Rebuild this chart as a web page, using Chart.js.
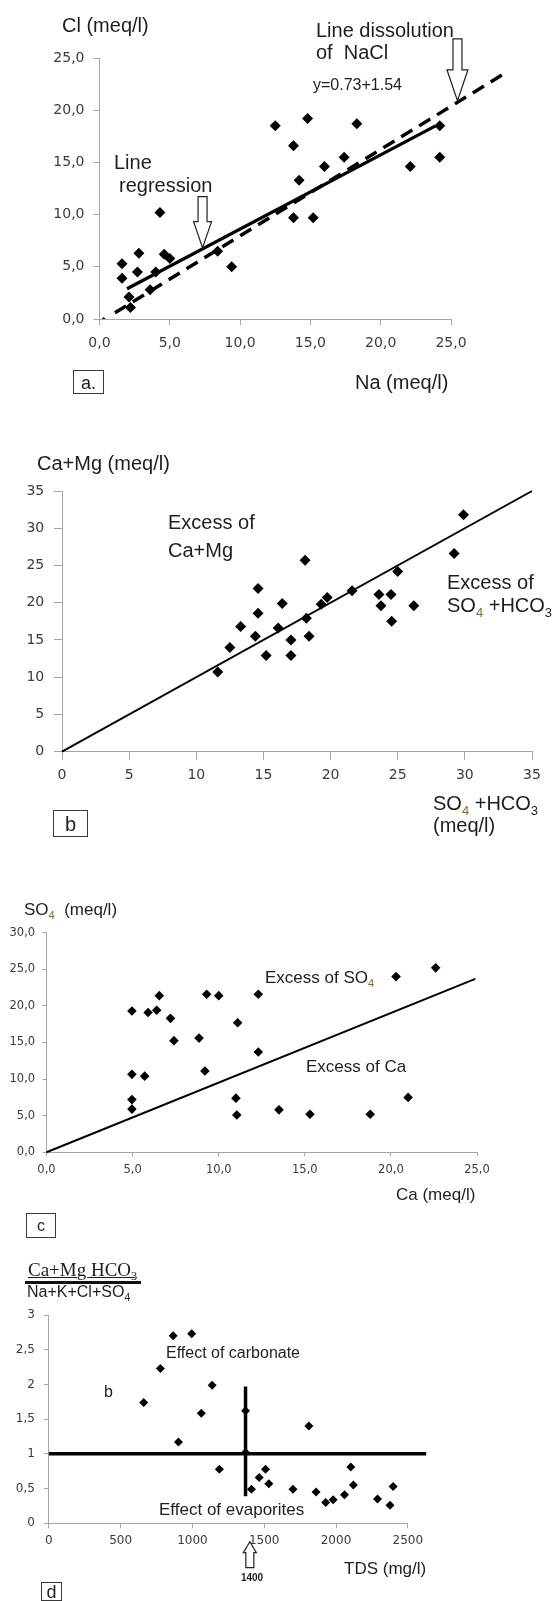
<!DOCTYPE html>
<html>
<head>
<meta charset="utf-8">
<script src="https://cdn.jsdelivr.net/npm/chart.js@4.4.1/dist/chart.umd.min.js"></script>
<style>
    html, body { margin: 0; padding: 0; background: #fff; }
    #page { position: relative; width: 557px; height: 1601px; overflow: hidden;
            font-family: "Liberation Sans", Arial, sans-serif; color: #1e1e1e; }
    canvas { position: absolute; left: 0; }
    .t { position: absolute; white-space: nowrap; line-height: 1; }
    .box { position: absolute; border: 1px solid #3a3a3a; text-align: center; line-height: 1; box-sizing: border-box; }
    sub { font-size: 65%; vertical-align: -0.35em; line-height: 0; }
    sub.s4 { color: #94661f; }
</style>
</head>
<body>
<div id="page">
    <canvas id="chart-a" width="557" height="400" style="top:0px"></canvas>
    <canvas id="chart-b" width="557" height="420" style="top:420px"></canvas>
    <canvas id="chart-c" width="557" height="380" style="top:860px"></canvas>
    <canvas id="chart-d" width="557" height="361" style="top:1240px"></canvas>

    <!-- a: Cl vs Na -->
    <div class="t" style="left:62px;top:15px;font-size:20px">Cl (meq/l)</div>
    <div class="t" style="left:316px;top:20px;font-size:20px">Line dissolution</div>
    <div class="t" style="left:316px;top:42px;font-size:20px">of&nbsp; NaCl</div>
    <div class="t" style="left:313px;top:77px;font-size:16px">y=0.73+1.54</div>
    <div class="t" style="left:114px;top:152px;font-size:20px">Line</div>
    <div class="t" style="left:119px;top:175px;font-size:20px">regression</div>
    <div class="t" style="left:355px;top:372px;font-size:20px">Na (meq/l)</div>
    <div class="box" style="left:73px;top:370px;width:31px;height:24px;font-size:18px;padding-top:3px">a.</div>

    <!-- b: Ca+Mg vs SO4+HCO3 -->
    <div class="t" style="left:37px;top:453px;font-size:20px">Ca+Mg (meq/l)</div>
    <div class="t" style="left:168px;top:512px;font-size:20px">Excess of</div>
    <div class="t" style="left:168px;top:540px;font-size:20px">Ca+Mg</div>
    <div class="t" style="left:447px;top:572px;font-size:20px">Excess of</div>
    <div class="t" style="left:447px;top:595px;font-size:20px">SO<sub class="s4">4</sub> +HCO<sub>3</sub></div>
    <div class="t" style="left:433px;top:793px;font-size:20px">SO<sub class="s4">4</sub> +HCO<sub>3</sub></div>
    <div class="t" style="left:433px;top:815px;font-size:20px">(meq/l)</div>
    <div class="box" style="left:53px;top:810px;width:35px;height:27px;font-size:20px;padding-top:3px">b</div>

    <!-- c: SO4 vs Ca -->
    <div class="t" style="left:24px;top:901px;font-size:17px">SO<sub class="s4">4</sub>&nbsp;&nbsp;(meq/l)</div>
    <div class="t" style="left:265px;top:969px;font-size:17px">Excess of SO<sub class="s4">4</sub></div>
    <div class="t" style="left:306px;top:1058px;font-size:17px">Excess of Ca</div>
    <div class="t" style="left:396px;top:1186px;font-size:17px">Ca (meq/l)</div>
    <div class="box" style="left:26px;top:1213px;width:30px;height:25px;font-size:16px;padding-top:4px">c</div>

    <!-- d: ionic ratio vs TDS -->
    <div class="t" style="left:28px;top:1260px;font-size:19px;font-family:'Liberation Serif',serif;text-decoration:underline;text-decoration-thickness:1px">Ca+Mg HCO<sub>3</sub></div>
    <div style="position:absolute;left:25px;top:1281px;width:116px;height:3px;background:#111"></div>
    <div class="t" style="left:27px;top:1284px;font-size:16px">Na+K+Cl+SO<sub>4</sub></div>
    <div class="t" style="left:104px;top:1384px;font-size:16px">b</div>
    <div class="t" style="left:166px;top:1345px;font-size:16px">Effect of carbonate</div>
    <div class="t" style="left:159px;top:1501px;font-size:17px">Effect of evaporites</div>
    <div class="t" style="left:344px;top:1560px;font-size:17px">TDS (mg/l)</div>
    <div class="t" style="left:238px;top:1573px;width:28px;text-align:center;font-size:10px;font-weight:bold">1400</div>
    <div class="box" style="left:41px;top:1582px;width:21px;height:19px;font-size:18px;padding-top:0px">d</div>
</div>

<script>
// a: Cl against Na (meq/l)
var naMeq = [12.5, 14.8, 18.3, 13.8, 14.2, 16.0, 17.4, 22.1, 24.2, 24.2, 13.8, 15.2, 4.3,
    1.6, 1.6, 2.8, 2.7, 4.6, 5.0, 4.0, 3.6, 2.1, 2.2, 8.4, 9.4];
var clMeq = [18.5, 19.2, 18.7, 16.6, 13.3, 14.6, 15.5, 14.6, 15.5, 18.5, 9.7, 9.7, 10.2,
    5.3, 3.9, 6.3, 4.5, 6.2, 5.8, 4.5, 2.8, 2.1, 1.1, 6.5, 5.0];
var originNa = [0.3];
var originCl = [0.0];
var regressionNa = [1.96, 23.9];
var regressionCl = [2.9, 18.5];
var dissolutionNa = [1.1, 28.9];
var dissolutionCl = [0.6, 23.6];
var naTicks = [0, 5, 10, 15, 20, 25];
var clTicks = [0, 5, 10, 15, 20, 25];

// b: Ca+Mg against SO4+HCO3 (meq/l)
var so4Hco3 = [29.9, 29.2, 18.1, 25.0, 14.6, 21.6, 23.6, 24.5, 19.75, 19.3, 16.4, 23.75, 26.2,
    14.6, 18.2, 24.55, 13.3, 16.1, 14.4, 17.05, 18.4, 12.5, 15.2, 17.05, 11.6];
var caMg = [31.8, 26.6, 25.7, 24.2, 21.9, 21.6, 21.1, 21.1, 20.7, 19.8, 19.9, 19.6, 19.6,
    18.6, 17.9, 17.5, 16.8, 16.6, 15.5, 15.0, 15.5, 14.0, 12.9, 12.9, 10.7];
var balanceX = [0, 35];
var balanceY = [0, 35];
var anionTicks = [0, 5, 10, 15, 20, 25, 30, 35];
var cationTicks = [0, 5, 10, 15, 20, 25, 30, 35];

// c: SO4 against Ca (meq/l)
var caMeq = [22.6, 20.3, 6.55, 9.3, 10.0, 12.3, 4.96, 5.9, 6.4, 7.2, 11.1, 7.4, 8.86,
    12.3, 4.96, 5.7, 9.2, 4.96, 4.96, 11.0, 11.05, 13.5, 15.3, 18.8, 21.0];
var so4Meq = [25.2, 24.0, 21.4, 21.6, 21.4, 21.6, 19.3, 19.1, 19.4, 18.3, 17.7, 15.25, 15.6,
    13.7, 10.65, 10.4, 11.1, 7.2, 5.9, 7.4, 5.1, 5.8, 5.2, 5.2, 7.5];
var gypsumCa = [0, 24.9];
var gypsumSo4 = [0, 23.7];
var caTicks = [0, 5, 10, 15, 20, 25];
var so4Ticks = [0, 5, 10, 15, 20, 25, 30];

// d: (Ca+Mg HCO3)/(Na+K+Cl+SO4) against TDS (mg/l)
var tds = [866, 995, 777, 1138, 661, 1062, 1370, 1811, 903, 1370, 1188, 1509, 1465,
    1532, 1411, 1700, 1861, 1928, 1980, 2059, 2103, 2121, 2289, 2376, 2398];
var ionRatio = [2.70, 2.73, 2.23, 1.99, 1.74, 1.585, 1.62, 1.40, 1.17, 1.02, 0.78, 0.78, 0.66,
    0.57, 0.49, 0.49, 0.45, 0.30, 0.34, 0.41, 0.81, 0.55, 0.35, 0.26, 0.53];
var unityTds = [0, 2628];
var unityRatio = [1, 1];
var thresholdTds = [1370, 1370];
var thresholdRatio = [0.39, 1.97];
var tdsTicks = [0, 500, 1000, 1500, 2000, 2500];
var ratioTicks = [0, 0.5, 1, 1.5, 2, 2.5, 3];

var axisGrey = '#a6a6a6';
var tickColor = '#3a3a3a';

function pairs(xs, ys) {
    return xs.map(function (x, i) {
        return { x: x, y: ys[i] };
    });
}

function commaLabel(digits) {
    return function (value) {
        return digits === null ? String(value).replace('.', ',') : value.toFixed(digits).replace('.', ',');
    };
}

function diamonds(xs, ys, radius) {
    return {
        data: pairs(xs, ys),
        pointStyle: 'rectRot',
        pointRadius: radius,
        backgroundColor: '#000',
        borderColor: '#000',
        borderWidth: 0,
        showLine: false
    };
}

function segment(xs, ys, width, dash) {
    return {
        data: pairs(xs, ys),
        showLine: true,
        borderColor: '#000',
        borderWidth: width,
        borderDash: dash || [],
        pointRadius: 0,
        clip: false
    };
}

// hollow block arrows pointing at a data position
var arrowPlugin = {
    id: 'hollowArrows',
    afterDatasetsDraw: function (chart, args, opts) {
        var ctx = chart.ctx;
        (opts.arrows || []).forEach(function (a) {
            var tx = chart.scales.x.getPixelForValue(a.x);
            var ty = chart.scales.y.getPixelForValue(a.y);
            var d = a.dir;
            var hy = ty - d * a.headLen;
            var sy = hy - d * a.shaftLen;
            ctx.save();
            ctx.beginPath();
            ctx.moveTo(tx, ty);
            ctx.lineTo(tx - a.head / 2, hy);
            ctx.lineTo(tx - a.shaft / 2, hy);
            ctx.lineTo(tx - a.shaft / 2, sy);
            ctx.lineTo(tx + a.shaft / 2, sy);
            ctx.lineTo(tx + a.shaft / 2, hy);
            ctx.lineTo(tx + a.head / 2, hy);
            ctx.closePath();
            ctx.fillStyle = '#fff';
            ctx.fill();
            ctx.strokeStyle = '#222';
            ctx.lineWidth = 1.2;
            ctx.stroke();
            ctx.restore();
        });
    }
};

function axis(a, isX, size) {
    return {
        type: 'linear',
        min: a.ticks[0],
        max: a.ticks[a.ticks.length - 1],
        afterBuildTicks: function (scale) {
            scale.ticks = a.ticks.map(function (v) {
                return { value: v };
            });
        },
        afterFit: function (scale) {
            if (isX) {
                scale.height = size;
            } else {
                scale.width = size;
            }
        },
        grid: {
            drawOnChartArea: false,
            drawTicks: true,
            tickLength: a.tickLength,
            color: axisGrey,
            lineWidth: 1
        },
        border: { color: axisGrey, width: 1 },
        ticks: {
            padding: a.padding,
            color: tickColor,
            autoSkip: false,
            maxRotation: 0,
            font: { family: 'DejaVu Sans', size: a.fontSize },
            callback: a.format
        }
    };
}

function buildScatter(canvasId, spec) {
    var canvas = document.getElementById(canvasId);
    return new Chart(canvas, {
        type: 'scatter',
        data: { datasets: spec.datasets },
        options: {
            responsive: false,
            animation: false,
            devicePixelRatio: 1,
            events: [],
            layout: {
                padding: { left: 0, top: spec.area.top, right: canvas.width - spec.area.right, bottom: 0 }
            },
            plugins: {
                legend: { display: false },
                tooltip: { enabled: false },
                hollowArrows: { arrows: spec.arrows || [] }
            },
            scales: {
                x: axis(spec.x, true, canvas.height - spec.area.bottom),
                y: axis(spec.y, false, spec.area.left)
            }
        },
        plugins: [arrowPlugin]
    });
}

buildScatter('chart-a', {
    area: { left: 99.5, right: 451, top: 58, bottom: 319 },
    x: { ticks: naTicks, tickLength: 6, padding: 9.6, fontSize: 14, format: commaLabel(1) },
    y: { ticks: clTicks, tickLength: 6, padding: 9, fontSize: 14, format: commaLabel(1) },
    datasets: [
        diamonds(naMeq, clMeq, 5.5),
        diamonds(originNa, originCl, 2),
        segment(regressionNa, regressionCl, 3.2),
        segment(dissolutionNa, dissolutionCl, 3.5, [13, 8])
    ],
    arrows: [
        { x: 25.46, y: 20.9, dir: 1, head: 21, headLen: 31, shaft: 9, shaftLen: 31 },
        { x: 7.33, y: 6.83, dir: 1, head: 18, headLen: 26, shaft: 9, shaftLen: 25 }
    ]
});

buildScatter('chart-b', {
    area: { left: 62, right: 532, top: 71, bottom: 331.7 },
    x: { ticks: anionTicks, tickLength: 8, padding: 6.9, fontSize: 14, format: commaLabel(null) },
    y: { ticks: cationTicks, tickLength: 8, padding: 9.8, fontSize: 14, format: commaLabel(null) },
    datasets: [
        diamonds(so4Hco3, caMg, 5.5),
        segment(balanceX, balanceY, 2)
    ]
});

buildScatter('chart-c', {
    area: { left: 46.5, right: 477, top: 72.7, bottom: 292.3 },
    x: { ticks: caTicks, tickLength: 4, padding: 6.8, fontSize: 11.5, format: commaLabel(1) },
    y: { ticks: so4Ticks, tickLength: 4, padding: 7.4, fontSize: 11.5, format: commaLabel(1) },
    datasets: [
        diamonds(caMeq, so4Meq, 4.8),
        segment(gypsumCa, gypsumSo4, 2)
    ]
});

buildScatter('chart-d', {
    area: { left: 48.8, right: 407.8, top: 75, bottom: 283.3 },
    x: { ticks: tdsTicks, tickLength: 5, padding: 5.5, fontSize: 12, format: commaLabel(null) },
    y: { ticks: ratioTicks, tickLength: 5, padding: 8.9, fontSize: 12, format: commaLabel(null) },
    datasets: [
        diamonds(tds, ionRatio, 4.5),
        segment(unityTds, unityRatio, 3.5),
        segment(thresholdTds, thresholdRatio, 3.5)
    ],
    arrows: [
        { x: 1400, y: -0.265, dir: -1, head: 13, headLen: 11, shaft: 8, shaftLen: 15 }
    ]
});
</script>
</body>
</html>
